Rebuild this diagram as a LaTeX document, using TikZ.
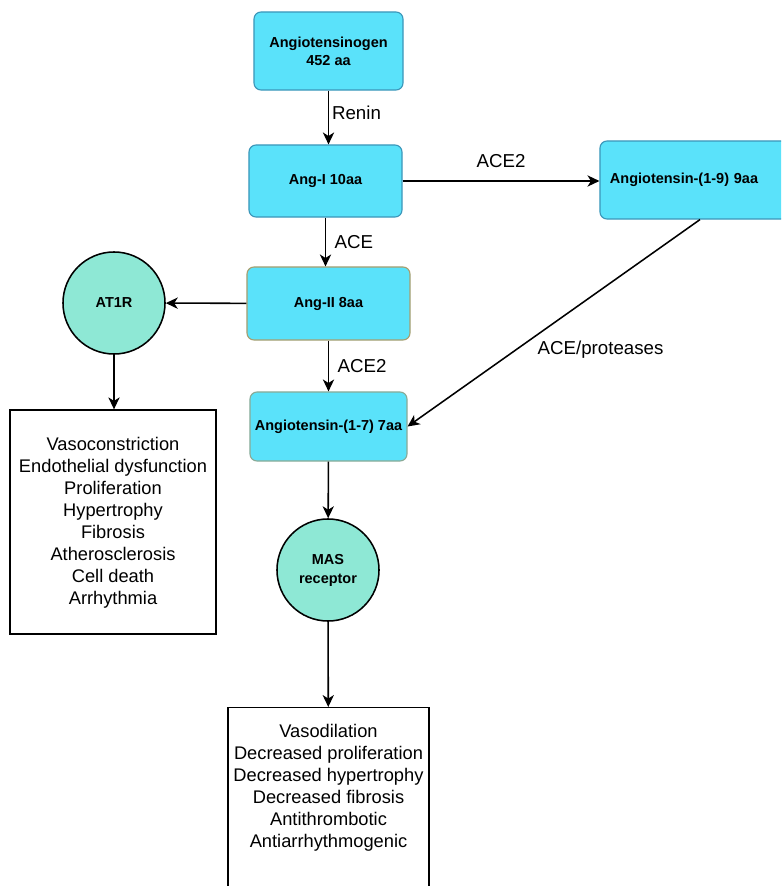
\documentclass[tikz,border=0pt]{standalone}
\usepackage{fontspec}
\setmainfont{Liberation Sans}
\usetikzlibrary{arrows.meta,positioning,shapes.geometric}

\definecolor{pepfill}{RGB}{90,226,250}
\definecolor{pepdraw}{RGB}{60,150,185}
\definecolor{tandraw}{RGB}{168,158,110}
\definecolor{sagedraw}{RGB}{138,170,150}
\definecolor{recfill}{RGB}{142,232,213}

\begin{document}
\begin{tikzpicture}[
    x=0.025cm, y=-0.025cm,
    peptide/.style={draw=pepdraw, rounded corners=5pt, fill=pepfill, line width=0.8pt, align=center, inner sep=1pt, font=\fontsize{10.3}{13}\selectfont\bfseries, text=black},
    receptor/.style={circle, draw=black, fill=recfill, line width=1.1pt, minimum size=2.55cm, inner sep=0pt, align=center, font=\fontsize{10.3}{13.5}\selectfont\bfseries},
    effectbox/.style={draw=black, line width=0.9pt, fill=white, inner sep=0pt},
    effecttext/.style={align=center, font=\fontsize{13}{15.6}\selectfont},
    enzyme/.style={font=\fontsize{13.3}{16}\selectfont},
    connector/.style={-{Stealth[length=8.5pt,width=8pt,inset=2.5pt]}, line width=1.1pt, black}
  ]
    \useasboundingbox (0,0) rectangle (781,886);
    \clip (0,0) rectangle (781,886);

    % Peptides
    \node[peptide, minimum width=3.725cm, minimum height=1.95cm] (agt) at (328.5,51) {Angiotensinogen\\452 aa};
    \node[peptide, minimum width=3.825cm, minimum height=1.8cm] (angI) at (325.5,181) {Ang-I 10aa};
    \node[peptide, draw=tandraw, minimum width=4.075cm, minimum height=1.825cm] (angII) at (328.5,303.5) {Ang-II 8aa};
    \node[peptide, draw=sagedraw, minimum width=3.925cm, minimum height=1.725cm] (ang17) at (328.5,426.5) {Angiotensin-(1-7) 7aa};
    \node[peptide, minimum width=4.75cm, minimum height=1.95cm, text width=4.25cm, align=left, inner xsep=0.25cm] (ang19) at (695,180) {Angiotensin-(1-9) 9aa};

    % Receptors
    \node[receptor] (at1r) at (114,303) {AT1R};
    \node[receptor] (mas) at (328,570) {MAS\\receptor};

    % Effects
    \node[effectbox, minimum width=5.15cm, minimum height=5.6cm] (at1rBox) at (113,522) {};
    \node[effecttext] (at1rText) at (113,523) {Vasoconstriction\\Endothelial dysfunction\\Proliferation\\Hypertrophy\\Fibrosis\\Atherosclerosis\\Cell death\\Arrhythmia};
    \node[effectbox, minimum width=5.025cm, minimum height=5.25cm, anchor=north] (masBox) at (328.5,707) {};
    \node[effecttext] (masText) at (328.5,788) {Vasodilation\\Decreased proliferation\\Decreased hypertrophy\\Decreased fibrosis\\Antithrombotic\\Antiarrhythmogenic};

    % Conectors
    \draw[connector] (agt) -- node[enzyme, right, inner sep=2pt, yshift=3pt] {Renin} (agt |- angI.north);
    \draw[connector] (angI) -- node[enzyme, right, inner sep=6pt] {ACE} (angI |- angII.north);
    \draw[connector] (angII) -- node[enzyme, right, inner sep=6pt] {ACE2} (ang17);
    \draw[connector] (angI.east) -- node[enzyme, above, inner sep=9pt] {ACE2} (angI.east -| ang19.west);
    \draw[connector] (ang19.south -| 700,0) -- node[enzyme, pos=0.63, right, inner sep=0pt, xshift=15pt] {ACE/proteases} (ang17.east);
    \draw[connector] (angII) -- (at1r);
    \draw[connector] (at1r) -- (at1r |- at1rBox.north);
    \draw[connector] (ang17) -- (mas);
    \draw[connector] (mas) -- (masBox);
  \end{tikzpicture}
\end{document}
